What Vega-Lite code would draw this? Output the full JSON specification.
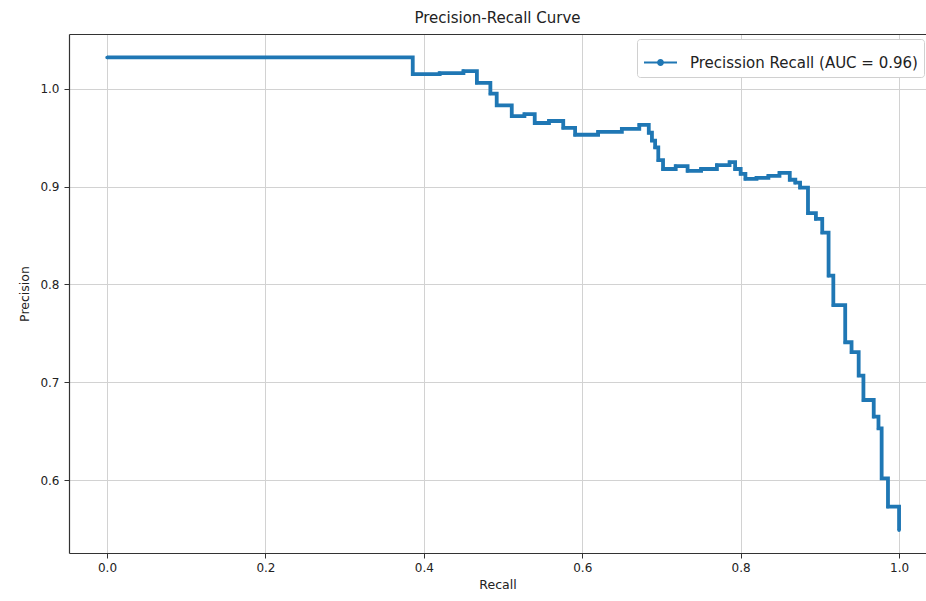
{
  "$schema": "https://vega.github.io/schema/vega-lite/v6.json",
  "autosize": {"type": "none"},
  "width": 857,
  "height": 519,
  "padding": {"left": 69, "top": 34, "right": 0, "bottom": 48},
  "background": "white",
  "title": {"text": "Precision-Recall Curve", "fontSize": 15, "fontWeight": "normal", "font": "DejaVu Sans", "color": "#222", "anchor": "middle", "offset": 8, "dx": 0},
  "config": {
    "font": "DejaVu Sans",
    "view": {"stroke": null},
    "axis": {"labelFont": "DejaVu Sans", "titleFont": "DejaVu Sans", "labelFontSize": 12, "titleFontSize": 12.5, "titleFontWeight": "normal", "labelColor": "#222", "titleColor": "#222", "tickColor": "#333", "tickSize": 5, "domainColor": "#333", "domainWidth": 1.2, "gridColor": "#d2d2d2", "gridWidth": 1}
  },
  "data": {"values": [
    {"recall": 0.000, "precision": 1.032},
    {"recall": 0.386, "precision": 1.015},
    {"recall": 0.420, "precision": 1.016},
    {"recall": 0.450, "precision": 1.018},
    {"recall": 0.467, "precision": 1.006},
    {"recall": 0.484, "precision": 0.995},
    {"recall": 0.492, "precision": 0.983},
    {"recall": 0.511, "precision": 0.972},
    {"recall": 0.527, "precision": 0.974},
    {"recall": 0.540, "precision": 0.965},
    {"recall": 0.558, "precision": 0.967},
    {"recall": 0.576, "precision": 0.960},
    {"recall": 0.591, "precision": 0.953},
    {"recall": 0.620, "precision": 0.956},
    {"recall": 0.650, "precision": 0.959},
    {"recall": 0.672, "precision": 0.963},
    {"recall": 0.684, "precision": 0.955},
    {"recall": 0.688, "precision": 0.947},
    {"recall": 0.692, "precision": 0.940},
    {"recall": 0.696, "precision": 0.927},
    {"recall": 0.702, "precision": 0.918},
    {"recall": 0.718, "precision": 0.921},
    {"recall": 0.733, "precision": 0.916},
    {"recall": 0.750, "precision": 0.918},
    {"recall": 0.770, "precision": 0.922},
    {"recall": 0.786, "precision": 0.925},
    {"recall": 0.793, "precision": 0.918},
    {"recall": 0.800, "precision": 0.913},
    {"recall": 0.806, "precision": 0.908},
    {"recall": 0.820, "precision": 0.909},
    {"recall": 0.835, "precision": 0.911},
    {"recall": 0.849, "precision": 0.914},
    {"recall": 0.862, "precision": 0.907},
    {"recall": 0.869, "precision": 0.904},
    {"recall": 0.875, "precision": 0.899},
    {"recall": 0.885, "precision": 0.873},
    {"recall": 0.895, "precision": 0.867},
    {"recall": 0.903, "precision": 0.853},
    {"recall": 0.911, "precision": 0.809},
    {"recall": 0.917, "precision": 0.779},
    {"recall": 0.932, "precision": 0.741},
    {"recall": 0.940, "precision": 0.731},
    {"recall": 0.949, "precision": 0.707},
    {"recall": 0.955, "precision": 0.682},
    {"recall": 0.968, "precision": 0.665},
    {"recall": 0.974, "precision": 0.653},
    {"recall": 0.978, "precision": 0.602},
    {"recall": 0.986, "precision": 0.573},
    {"recall": 1.000, "precision": 0.549}
  ]},
  "layer": [
    {
      "mark": {"type": "line", "interpolate": "step-after", "strokeWidth": 3.8, "clip": true},
      "encoding": {
        "x": {"field": "recall", "type": "quantitative", "scale": {"domain": [-0.048, 1.034], "nice": false, "zero": false},
              "axis": {"title": "Recall", "values": [0, 0.2, 0.4, 0.6, 0.8, 1.0], "format": ".1f", "grid": true, "domain": true, "labelPadding": 4, "titlePadding": 5}},
        "y": {"field": "precision", "type": "quantitative", "scale": {"domain": [0.5257, 1.0559], "nice": false, "zero": false},
              "axis": {"title": "Precision", "values": [0.6, 0.7, 0.8, 0.9, 1.0], "format": ".1f", "grid": true, "domain": true, "labelPadding": 5, "titlePadding": 8}},
        "color": {"datum": "Precission Recall (AUC = 0.96)", "type": "nominal",
                  "scale": {"range": ["#1f77b4"]},
                  "legend": {"title": null, "orient": "none", "legendX": 568, "legendY": 5,
                             "symbolType": "M-1,0H1M-0.15,0A0.15,0.15 0 1,1 0.15,0A0.15,0.15 0 1,1 -0.15,0",
                             "symbolSize": 1089, "symbolStrokeWidth": 2, "symbolFillColor": "#1f77b4", "symbolStrokeColor": "#1f77b4",
                             "labelFontSize": 15, "labelFont": "DejaVu Sans", "labelColor": "#222", "labelOffset": 12, "labelLimit": 0,
                             "fillColor": "white", "strokeColor": "#d0d0d0", "cornerRadius": 3, "padding": 6}}
      }
    },
    {
      "mark": {"type": "point", "filled": true, "size": 12, "opacity": 1, "clip": true},
      "encoding": {
        "x": {"field": "recall", "type": "quantitative", "axis": {"orient": "top", "labels": false, "ticks": false, "title": null, "grid": false, "domain": true}},
        "y": {"field": "precision", "type": "quantitative"},
        "color": {"datum": "Precission Recall (AUC = 0.96)", "type": "nominal"}
      }
    }
  ],
  "resolve": {"axis": {"x": "independent"}}
}
